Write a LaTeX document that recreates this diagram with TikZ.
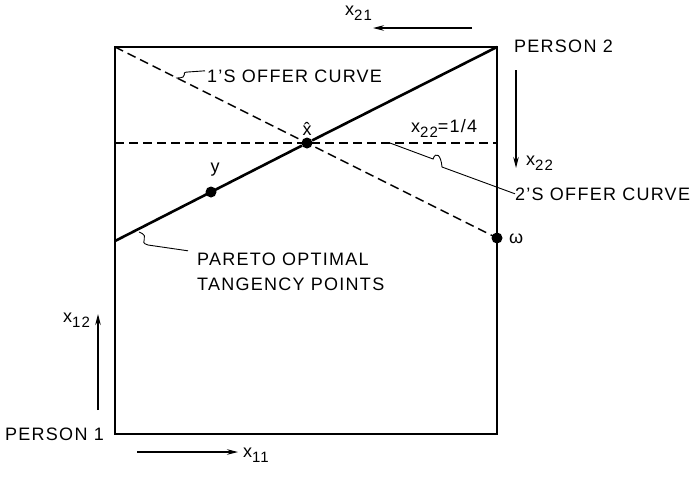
\documentclass[tikz,border=0pt]{standalone}
\usepackage{fontspec}
\setmainfont{Liberation Sans}[LetterSpace=7]
\usetikzlibrary{arrows.meta}
\newcommand{\lowidx}[1]{\raisebox{-0.6ex}{\fontsize{15}{15}\selectfont #1}}

\begin{document}
\begin{tikzpicture}[
        x=1pt, y=-1pt,
        every node/.style={font=\fontsize{18}{21}\selectfont, inner sep=0pt},
        lbl/.style={anchor=base west},
        boxline/.style={line width=1.2pt},
        pareto/.style={line width=2.6pt},
        offer/.style={line width=1.4pt, dash pattern=on 9pt off 5pt},
        leader/.style={line width=0.9pt},
        axisarrow/.style={line width=1.1pt, -{Stealth[length=11pt,width=5.5pt]}},
        dot/.style={circle, fill=black, minimum size=11pt},
    ]
    \useasboundingbox (0,0) rectangle (698,477);
    % edgeworth box corners
    \coordinate (o1) at (115,434);
    \coordinate (o2) at (497,47);
    \coordinate (tl) at (115,47);
    \coordinate (pl) at (115,241);
    \coordinate (hl) at (115,143);
    \coordinate (hr) at (497,143);
    \draw[boxline] (o1) rectangle (o2);

    % points
    \node[dot](xhat) at (307,143){};
    \node[dot](ypt) at (211,192){};
    \node[dot](omega) at (497,238){};

    % curves
    \draw[pareto] (pl) -- (xhat) -- (o2);
    \draw[offer] (tl) -- (xhat.center) -- (omega.center);
    \draw[offer] (hl) -- (hr);

    % labels
    \node[anchor=base](xhatlbl) at (307,135){\^x};
    \node[anchor=base](ylbl) at (215,172){y};
    \node[lbl](omegalbl) at (509,243){ω};
    \node[lbl](budget) at (411,132){x\lowidx{22}=1/4};
    \node[lbl](p2) at (514,52){PERSON 2};
    \node[lbl](p1) at (5,440){PERSON 1};
    \node[lbl](offer1) at (207,82){1'S OFFER CURVE};
    \node[lbl](offer2) at (515,200){2'S OFFER CURVE};
    \node[lbl](par1) at (197,265){PARETO OPTIMAL};
    \node[lbl](par2) at (197,290){TANGENCY POINTS};

    % leaders
    \draw[leader] (offer1.west) ++(-2,-5) -- (188,72)
        .. controls (179,72) and (191,78) .. (176,78);
    \draw[leader] (hr -| 390,0) -- (433,159)
        .. controls (436,151) and (441,155) .. (442,167) -- (offer2.west);
    \draw[leader] (par1.west) ++(-9,-8) -- (148,245)
        .. controls (137,242) and (152,237) .. (139,232);

    % axis arrows
    \coordinate (a21s) at (472,28);
    \coordinate (a21e) at (373,28);
    \coordinate (a22s) at (516,70);
    \coordinate (a22e) at (516,168);
    \coordinate (a12s) at (98,410);
    \coordinate (a12e) at (98,314);
    \coordinate (a11s) at (137,452);
    \coordinate (a11e) at (238,452);
    \draw[axisarrow] (a21s) -- (a21e);
    \draw[axisarrow] (a22s) -- (a22e);
    \draw[axisarrow] (a12s) -- (a12e);
    \draw[axisarrow] (a11s) -- (a11e);
    \node[lbl](x21) at (345,15){x\lowidx{21}};
    \node[lbl](x22) at (526,165){x\lowidx{22}};
    \node[lbl](x12) at (63,322){x\lowidx{12}};
    \node[lbl](x11) at (243,457){x\lowidx{11}};
\end{tikzpicture}
\end{document}
